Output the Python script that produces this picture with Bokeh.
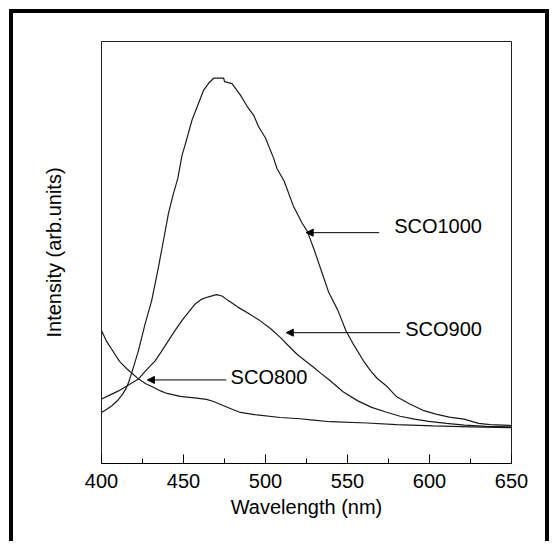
from bokeh.plotting import figure
from bokeh.models import Arrow, NormalHead, Range1d, FixedTicker, ColumnDataSource
from bokeh.embed import file_html
from bokeh.resources import INLINE
from bokeh.core.properties import value

# ---- data ----
sco1000_x = [400, 403, 406.3, 410, 413, 415, 416.5, 418, 420, 422.5, 426.6, 430.6, 434.7, 437.8,
             440.8, 443.8, 446.5, 449.1, 451.2, 455.2, 458.3, 462.3, 465.3, 468.4, 474.5, 475,
             479.6, 484.7, 488.7, 492.8, 495.8, 499.9, 505, 507, 511.4, 516.9, 522.3, 525.5,
             529.9, 534.2, 538.6, 544, 549, 553.8, 560.3, 564, 568, 573.4, 580, 588, 596, 604,
             612, 621, 630, 637, 650]
sco1000_y = [12.1, 12.8, 13.7, 15.0, 16.5, 17.8, 19.2, 21.0, 23.5, 26.7, 33.1, 38.6, 46.5, 52.9,
             59.2, 63.9, 67.5, 73.0, 75.8, 81.4, 84.5, 88.5, 90.1, 91.3, 91.3, 90.5,
             90.0, 87.3, 84.7, 82.5, 79.8, 77.2, 72.3, 69.9, 66.9, 61.1, 57.0, 55.0,
             50.4, 45.5, 40.5, 36.4, 31.5, 28.1, 24.0, 22.0, 20.2, 18.5, 15.8, 14.1, 12.6, 11.7,
             11.0, 10.5, 9.5, 9.2, 9.0]

sco900_x = [400, 405, 410.4, 416, 422.5, 427, 432.7, 436.5, 440.8, 445, 448.9, 453, 457.1, 461,
            465.2, 470.2, 473.5, 477.3, 483.4, 490, 496.8, 503, 509, 514, 519.2, 524, 529.3,
            534, 539.5, 547.3, 556, 564.7, 573.4, 582.1, 590.8, 599.5, 610.4, 621.3, 635, 650]
sco900_y = [15.3, 16.2, 17.2, 18.5, 20.0, 22.0, 24.3, 26.5, 29.1, 31.6, 33.8, 35.8, 37.8, 38.9,
            39.5, 40.0, 39.7, 38.6, 37.0, 35.5, 33.8, 32.0, 29.9, 27.9, 25.9, 24.4, 22.8,
            21.3, 19.6, 17.0, 14.9, 13.3, 12.2, 11.2, 10.5, 10.0, 9.5, 9.1, 8.8, 8.7]

sco800_x = [400, 403, 407.5, 411, 415.6, 422.7, 427, 431.9, 436, 440, 448, 458, 464, 468.4,
            474.5, 480, 484.7, 494.8, 509, 521, 529.3, 539.5, 561.8, 580, 602, 625, 650]
sco800_y = [31.5, 29.0, 26.3, 24.2, 22.4, 20.0, 18.9, 18.0, 17.2, 16.6, 15.9, 15.5, 15.2, 14.7,
            13.7, 12.8, 12.1, 11.5, 10.9, 10.6, 10.3, 9.9, 9.6, 9.2, 8.9, 8.7, 8.5]

x_ticks = [400, 450, 500, 550, 600, 650]
x_minor = [425, 475, 525, 575, 625]

label_text = ["SCO1000", "SCO900", "SCO800"]
label_x = [632.0, 632.0, 525.5]
label_y = [56.2, 31.8, 20.4]

arrow_x0 = [569.3, 582.1, 476.1]
arrow_x1 = [524.8, 512.7, 428.0]
arrow_y = [54.7, 31.0, 19.8]

FONT = "Liberation Sans"

p = figure(width=540, height=532, output_backend="svg", toolbar_location=None,
           x_range=Range1d(400, 650), y_range=Range1d(0, 100),
           min_border_left=88, min_border_right=42, min_border_top=28, min_border_bottom=82)
p.styles = {"border-top": "4px solid black", "border-left": "4px solid black",
            "border-right": "4px solid black", "margin-left": "9px", "margin-top": "9px"}

p.xgrid.grid_line_color = None
p.ygrid.grid_line_color = None
p.outline_line_color = "#222222"
p.outline_line_width = 1
p.background_fill_color = "white"
p.border_fill_color = "white"

xa = p.xaxis[0]
xa.ticker = FixedTicker(ticks=x_ticks, minor_ticks=x_minor)
xa.major_tick_in = 9
xa.major_tick_out = 0
xa.minor_tick_in = 5
xa.minor_tick_out = 0
xa.axis_line_color = "black"
xa.major_tick_line_color = "black"
xa.minor_tick_line_color = "black"
xa.major_label_text_font = FONT
xa.major_label_text_font_size = "20px"
xa.major_label_text_color = "black"
xa.major_label_standoff = 10
xa.axis_label = "Wavelength (nm)"
xa.axis_label_text_font = FONT
xa.axis_label_text_font_size = "20px"
xa.axis_label_text_font_style = "normal"
xa.axis_label_text_color = "black"
xa.axis_label_standoff = 5

ya = p.yaxis[0]
ya.ticker = FixedTicker(ticks=[])
ya.axis_line_color = None
ya.major_tick_line_color = None
ya.minor_tick_line_color = None
ya.major_label_text_font_size = "0px"
ya.axis_label = "Intensity (arb.units)"
ya.axis_label_text_font = FONT
ya.axis_label_text_font_size = "20px"
ya.axis_label_text_font_style = "normal"
ya.axis_label_text_color = "black"
ya.axis_label_standoff = 37

for xs, ys in [(sco1000_x, sco1000_y), (sco900_x, sco900_y), (sco800_x, sco800_y)]:
    p.line(xs, ys, line_color="#1a1a1a", line_width=1.2)

lsrc = ColumnDataSource(dict(x=label_x, y=label_y, t=label_text))
p.text(x="x", y="y", text="t", source=lsrc, text_font=value(FONT), text_font_size="20px",
       text_align="right", text_baseline="middle", text_color="black")

asrc = ColumnDataSource(dict(x0=arrow_x0, x1=arrow_x1, y0=arrow_y, y1=arrow_y))
p.add_layout(Arrow(end=NormalHead(size=7, fill_color="black", line_color="black", line_width=1),
                   x_start="x0", y_start="y0", x_end="x1", y_end="y1", source=asrc,
                   line_color="black", line_width=1))

open("out.html", "w").write(file_html(p, INLINE))
